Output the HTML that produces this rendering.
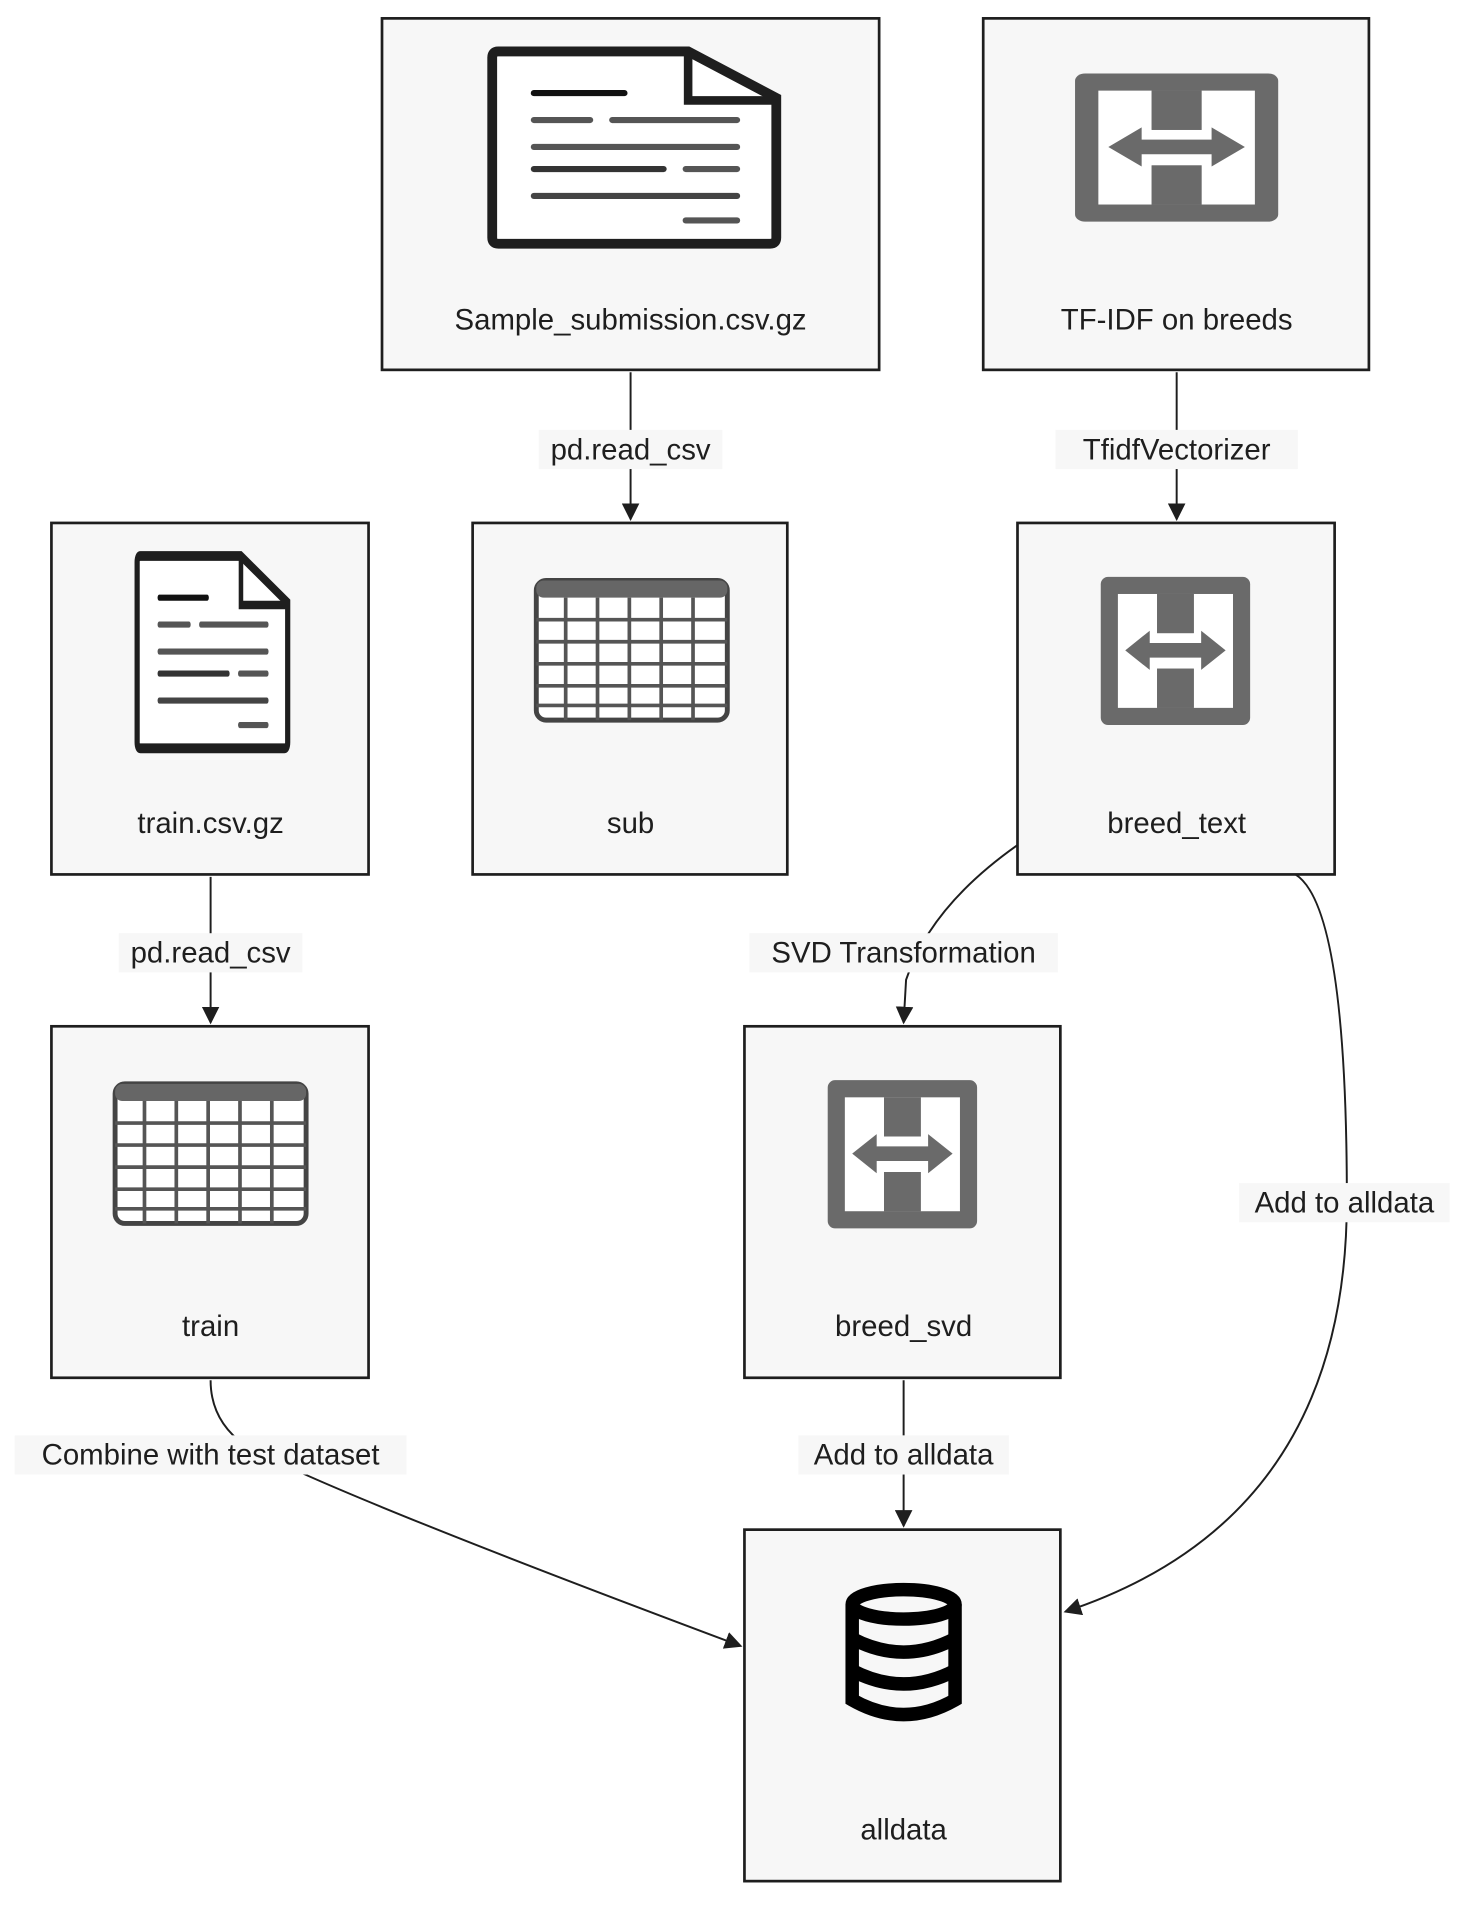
<!DOCTYPE html>
<html><head><meta charset="utf-8"><style>
html,body{margin:0;padding:0;background:#fff;}
svg{display:block;}
text{font-family:"Liberation Sans",sans-serif;font-size:24px;fill:#1e1e1e;text-anchor:middle;}
.box{fill:#f7f7f7;stroke:#1e1e1e;stroke-width:2.2;}
.e{fill:none;stroke:#1e1e1e;stroke-width:1.6;}
.lb{fill:#f7f7f7;}
</style></head><body>
<svg width="1484" height="1924" viewBox="0 0 1212 1571" preserveAspectRatio="none" xmlns="http://www.w3.org/2000/svg">
<defs>
<marker id="a" viewBox="0 0 10 10" refX="9" refY="5" markerWidth="9" markerHeight="9" orient="auto-start-reverse"><path d="M0,0 L10,5 L0,10 z" fill="#1e1e1e"/></marker>
<g id="doc">
 <path d="M0,5 Q0,0 5,0 L160,0 L232,38 L232,152 Q232,157 227,157 L5,157 Q0,157 0,152 Z" fill="#fff" stroke="#1e1e1e" stroke-width="8"/>
 <path d="M160,0 L160,40 L232,40" fill="none" stroke="#1e1e1e" stroke-width="7"/>
 <g stroke-linecap="round" stroke-width="5" fill="none">
 <path d="M34,34 L108,34" stroke="#111"/>
 <path d="M34,56 L80,56 M98,56 L200,56" stroke="#555"/>
 <path d="M34,78 L200,78" stroke="#555"/>
 <path d="M34,96 L140,96" stroke="#333"/><path d="M158,96 L200,96" stroke="#555"/>
 <path d="M34,118 L200,118" stroke="#444"/>
 <path d="M158,138 L200,138" stroke="#555"/>
 </g>
</g>
<g id="tbl">
 <rect x="2" y="2" width="156" height="114" rx="8" fill="#fff" stroke="#444" stroke-width="4"/>
 <rect x="2" y="2" width="156" height="14" rx="6" fill="#666"/>
 <g stroke="#555" stroke-width="3">
 <path d="M2,34 H158 M2,52 H158 M2,70 H158 M2,88 H158 M2,104 H158"/>
 <path d="M26,16 V116 M52,16 V116 M78,16 V116 M104,16 V116 M130,16 V116"/>
 </g>
</g>
<g id="hh">
 <rect x="0" y="0" width="122" height="121" rx="6" fill="#6a6a6a"/>
 <rect x="14" y="14" width="94" height="93" fill="#fff"/>
 <rect x="14" y="14" width="28" height="93" fill="#6a6a6a" opacity="0"/>
 <path d="M46,14 V46 H76 V14 M46,107 V75 H76 V107" fill="#6a6a6a"/>
 <path d="M46,14 H76 V46 H46 Z M46,75 H76 V107 H46 Z" fill="#6a6a6a"/>
 <path d="M20,60 L40,44 L40,54 L82,54 L82,44 L102,60 L82,76 L82,66 L40,66 L40,76 Z" fill="#6a6a6a"/>
</g>
</defs>

<!-- boxes -->
<rect class="box" x="312" y="15" width="406" height="287"/>
<rect class="box" x="803" y="15" width="315" height="287"/>
<rect class="box" x="42" y="427" width="259" height="287"/>
<rect class="box" x="386" y="427" width="257" height="287"/>
<rect class="box" x="831" y="427" width="259" height="287"/>
<rect class="box" x="42" y="838" width="259" height="287"/>
<rect class="box" x="608" y="838" width="258" height="287"/>
<rect class="box" x="608" y="1249" width="258" height="287"/>

<!-- icons -->
<use href="#doc" x="402" y="42"/>
<g transform="translate(112,454) scale(0.53,1)"><use href="#doc"/></g>
<use href="#tbl" x="436" y="472"/>
<use href="#tbl" x="92" y="883"/>
<g transform="translate(878,60) scale(1.36,1)"><use href="#hh"/></g>
<use href="#hh" x="899" y="471"/>
<use href="#hh" x="676" y="882"/>
<g fill="none" stroke="#000" stroke-width="11">
 <ellipse cx="738" cy="1310" rx="42" ry="12"/>
 <path d="M696,1310 V1388 Q738,1412 780,1388 V1310"/>
 <path d="M696,1338 Q738,1360 780,1338 M696,1364 Q738,1386 780,1364"/>
</g>

<!-- labels -->
<text x="515" y="269">Sample_submission.csv.gz</text>
<text x="961" y="269">TF-IDF on breeds</text>
<text x="172" y="680">train.csv.gz</text>
<text x="515" y="680">sub</text>
<text x="961" y="680">breed_text</text>
<text x="172" y="1091">train</text>
<text x="738" y="1091">breed_svd</text>
<text x="738" y="1502">alldata</text>

<!-- edges -->
<path class="e" d="M515,304 V424" marker-end="url(#a)"/>
<path class="e" d="M961,304 V424" marker-end="url(#a)"/>
<path class="e" d="M172,716 V835" marker-end="url(#a)"/>
<path class="e" d="M831,690 Q760,740 740,800 L738,835" marker-end="url(#a)"/>
<path class="e" d="M738,1127 V1246" marker-end="url(#a)"/>
<path class="e" d="M1058,714 Q1100,740 1100,980 Q1100,1240 870,1316" marker-end="url(#a)"/>
<path class="e" d="M172,1127 Q172,1160 200,1180 Q260,1215 605,1344" marker-end="url(#a)"/>

<!-- edge labels -->
<rect class="lb" x="440" y="351" width="150" height="32"/><text x="515" y="375">pd.read_csv</text>
<rect class="lb" x="862" y="351" width="198" height="32"/><text x="961" y="375">TfidfVectorizer</text>
<rect class="lb" x="97" y="762" width="150" height="32"/><text x="172" y="786">pd.read_csv</text>
<rect class="lb" x="612" y="762" width="252" height="32"/><text x="738" y="786">SVD Transformation</text>
<rect class="lb" x="1012" y="966" width="172" height="32"/><text x="1098" y="990">Add to alldata</text>
<rect class="lb" x="12" y="1172" width="320" height="32"/><text x="172" y="1196">Combine with test dataset</text>
<rect class="lb" x="652" y="1172" width="172" height="32"/><text x="738" y="1196">Add to alldata</text>
</svg>
</body></html>
